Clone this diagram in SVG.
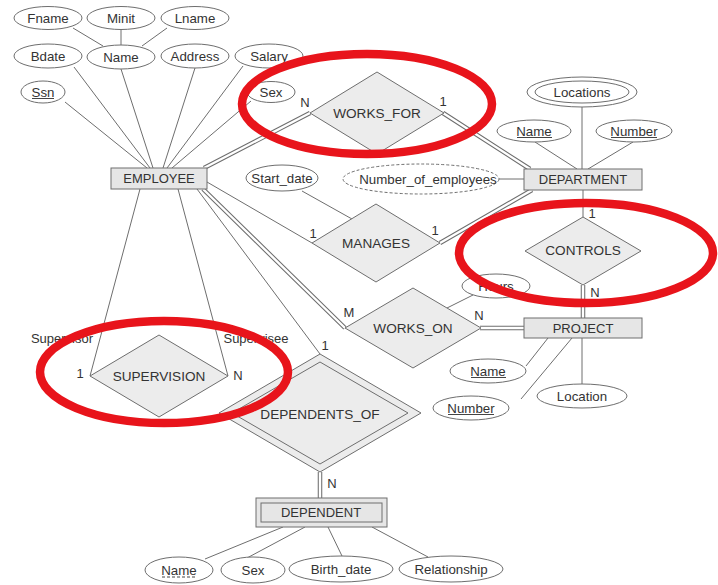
<svg xmlns="http://www.w3.org/2000/svg" width="718" height="585" viewBox="0 0 718 585">
<style>
text{font-family:"Liberation Sans",Arial,sans-serif;fill:#333;text-anchor:middle}
.at{font-size:13.3px}
.en{font-size:13px}
.rl{font-size:13.6px}
.cd{font-size:13px}
.ln{stroke:#6e6e6e;stroke-width:1;fill:none}
.dbo{stroke:#6e6e6e;stroke-width:4.5;fill:none}
.dbi{stroke:#fff;stroke-width:2.4;fill:none}
.ent{fill:#e6e6e6;stroke:#6e6e6e;stroke-width:1}
.rel{fill:#ececec;stroke:#6e6e6e;stroke-width:1}
.att{fill:#fff;stroke:#6e6e6e;stroke-width:1}
.drv{fill:#fff;stroke:#6e6e6e;stroke-width:1;stroke-dasharray:3 2}
.ul{stroke:#444;stroke-width:1}
.red{fill:none;stroke:#e8141b;stroke-width:8.5}
</style>
<g id="connectors">
<g id="double-lines">
<path class="dbo" d="M204 168L310 113M443 113L530 169M440 243L532 190M203 189L345 328M480 328L524 328M583 285L583 318M320 472L320 498"/>
<path class="dbi" d="M204 168L310 113M443 113L530 169M440 243L532 190M203 189L345 328M480 328L524 328M583 285L583 318M320 472L320 498"/>
</g>
<path class="ln" d="M73 28L103 46M121 30L121 45M167 28L142 46M74 67L150 168M121 69L153 168M195 68L163 168M243 66L167 168M65 102L147 168M251 101L172 168M140 189L90 376M178 189L228 376M197 189L320 354M207 182L312 243M302 191L352 219M499 179L524 179M535 142L577 169M582 107L582 169M633 142L588 169M583 190L583 217M473 295L447 308M526 366L548 338M521 399L572 338M582 384L582 338M205 559L283 527M247 558L305 527M342 556L328 527M428 557L372 527"/>
</g>
<g id="EMPLOYEE"><rect class="ent" x="111" y="168" width="96" height="21"/><text class="en" x="159" y="183">EMPLOYEE</text></g>
<g id="DEPARTMENT"><rect class="ent" x="524" y="169" width="118" height="21"/><text class="en" x="583" y="184">DEPARTMENT</text></g>
<g id="PROJECT"><rect class="ent" x="524" y="318" width="118" height="20"/><text class="en" x="583" y="332.5">PROJECT</text></g>
<g id="DEPENDENT"><rect class="ent" x="256" y="498" width="131" height="29"/><rect class="ent" x="261" y="503" width="121" height="19"/><text class="en" x="321" y="517">DEPENDENT</text></g>
<g id="WORKS_FOR"><polygon class="rel" points="377,72 444,113 377,154 310,113"/><text class="rl" x="377" y="117.5">WORKS_FOR</text></g>
<g id="MANAGES"><polygon class="rel" points="376,204 440,243 376,282 312,243"/><text class="rl" x="376" y="247.5">MANAGES</text></g>
<g id="WORKS_ON"><polygon class="rel" points="413,288 481,328 413,368 345,328"/><text class="rl" x="413" y="332.5">WORKS_ON</text></g>
<g id="CONTROLS"><polygon class="rel" points="583,217 641,251 583,285 525,251"/><text class="rl" x="583" y="255">CONTROLS</text></g>
<g id="SUPERVISION"><polygon class="rel" points="159,335 228,376 159,417 90,376"/><text class="rl" x="159" y="381">SUPERVISION</text></g>
<g id="DEPENDENTS_OF"><polygon class="rel" points="320,354 421,413 320,472 219,413"/><polygon class="rel" points="320,362 408,413 320,464 232,413"/><text class="rl" x="320" y="418.5">DEPENDENTS_OF</text></g>
<g id="Fname"><ellipse class="att" cx="48" cy="18" rx="34" ry="11.5"/><text class="at" x="48" y="22.5">Fname</text></g>
<g id="Minit"><ellipse class="att" cx="121" cy="18" rx="34" ry="11.5"/><text class="at" x="121" y="22.5">Minit</text></g>
<g id="Lname"><ellipse class="att" cx="195" cy="18" rx="34" ry="11.5"/><text class="at" x="195" y="22.5">Lname</text></g>
<g id="Bdate"><ellipse class="att" cx="48" cy="56" rx="34" ry="12"/><text class="at" x="48" y="60.5">Bdate</text></g>
<g id="Name"><ellipse class="att" cx="121" cy="57" rx="34" ry="12"/><text class="at" x="121" y="61.5">Name</text></g>
<g id="Address"><ellipse class="att" cx="195" cy="56" rx="34" ry="12"/><text class="at" x="195" y="60.5">Address</text></g>
<g id="Salary"><ellipse class="att" cx="269" cy="56" rx="34" ry="12"/><text class="at" x="269" y="60.5">Salary</text></g>
<g id="Ssn"><ellipse class="att" cx="43" cy="92" rx="22" ry="11"/><text class="at" x="43" y="96.5">Ssn</text><line class="ul" x1="32" y1="98.5" x2="54" y2="98.5"/></g>
<g id="Sex"><ellipse class="att" cx="271" cy="92" rx="24" ry="10.5"/><text class="at" x="271" y="96.5">Sex</text></g>
<g id="Start_date"><ellipse class="att" cx="282" cy="178" rx="36" ry="13"/><text class="at" x="282" y="182.5">Start_date</text></g>
<g id="Number_of_employees"><ellipse class="drv" cx="421" cy="179" rx="78" ry="15"/><text class="at" x="428" y="183.5">Number_of_employees</text></g>
<g id="Locations"><ellipse class="att" cx="582" cy="92" rx="55" ry="15"/><ellipse class="att" cx="582" cy="92" rx="47" ry="11"/><text class="at" x="582" y="96.5">Locations</text></g>
<g id="Dept_Name"><ellipse class="att" cx="534" cy="131" rx="37" ry="11"/><text class="at" x="534" y="135.5">Name</text><line class="ul" x1="517" y1="137.5" x2="552" y2="137.5"/></g>
<g id="Dept_Number"><ellipse class="att" cx="634" cy="131" rx="38" ry="11"/><text class="at" x="634" y="135.5">Number</text><line class="ul" x1="611" y1="137.5" x2="657" y2="137.5"/></g>
<g id="Hours"><ellipse class="att" cx="496" cy="286" rx="34" ry="12"/><text class="at" x="496" y="290.5">Hours</text></g>
<g id="Proj_Name"><ellipse class="att" cx="488" cy="371" rx="38" ry="12"/><text class="at" x="488" y="375.5">Name</text><line class="ul" x1="471" y1="377.5" x2="506" y2="377.5"/></g>
<g id="Proj_Number"><ellipse class="att" cx="471" cy="408" rx="38" ry="12"/><text class="at" x="471" y="412.5">Number</text><line class="ul" x1="448" y1="414.5" x2="494" y2="414.5"/></g>
<g id="Location"><ellipse class="att" cx="582" cy="396" rx="45" ry="12"/><text class="at" x="582" y="400.5">Location</text></g>
<g id="Dep_Name"><ellipse class="att" cx="179" cy="570" rx="34" ry="13"/><text class="at" x="179" y="574.5">Name</text><line class="ul" x1="162" y1="577" x2="197" y2="577" stroke-dasharray="3 2"/></g>
<g id="Dep_Sex"><ellipse class="att" cx="253" cy="570" rx="32" ry="13"/><text class="at" x="253" y="574.5">Sex</text></g>
<g id="Birth_date"><ellipse class="att" cx="341" cy="569" rx="52" ry="13"/><text class="at" x="341" y="573.5">Birth_date</text></g>
<g id="Relationship"><ellipse class="att" cx="451" cy="569" rx="52" ry="13"/><text class="at" x="451" y="573.5">Relationship</text></g>
<g id="labels">
<text class="cd" x="305" y="107">N</text>
<text class="cd" x="443" y="106">1</text>
<text class="cd" x="313" y="238">1</text>
<text class="cd" x="435" y="235">1</text>
<text class="cd" x="349" y="317">M</text>
<text class="cd" x="479" y="320">N</text>
<text class="cd" x="592" y="218">1</text>
<text class="cd" x="595" y="297">N</text>
<text class="cd" x="325" y="350">1</text>
<text class="cd" x="332" y="488">N</text>
<text class="cd" x="80" y="378">1</text>
<text class="cd" x="238" y="380">N</text>
<text class="cd" x="62" y="343">Supervisor</text>
<text class="cd" x="256" y="343">Supervisee</text>
</g>
<g id="highlights">
<ellipse class="red" cx="367" cy="104" rx="125" ry="50"/>
<ellipse class="red" cx="586" cy="253" rx="127" ry="50"/>
<ellipse class="red" cx="164" cy="372" rx="124" ry="51"/>
</g>
</svg>
